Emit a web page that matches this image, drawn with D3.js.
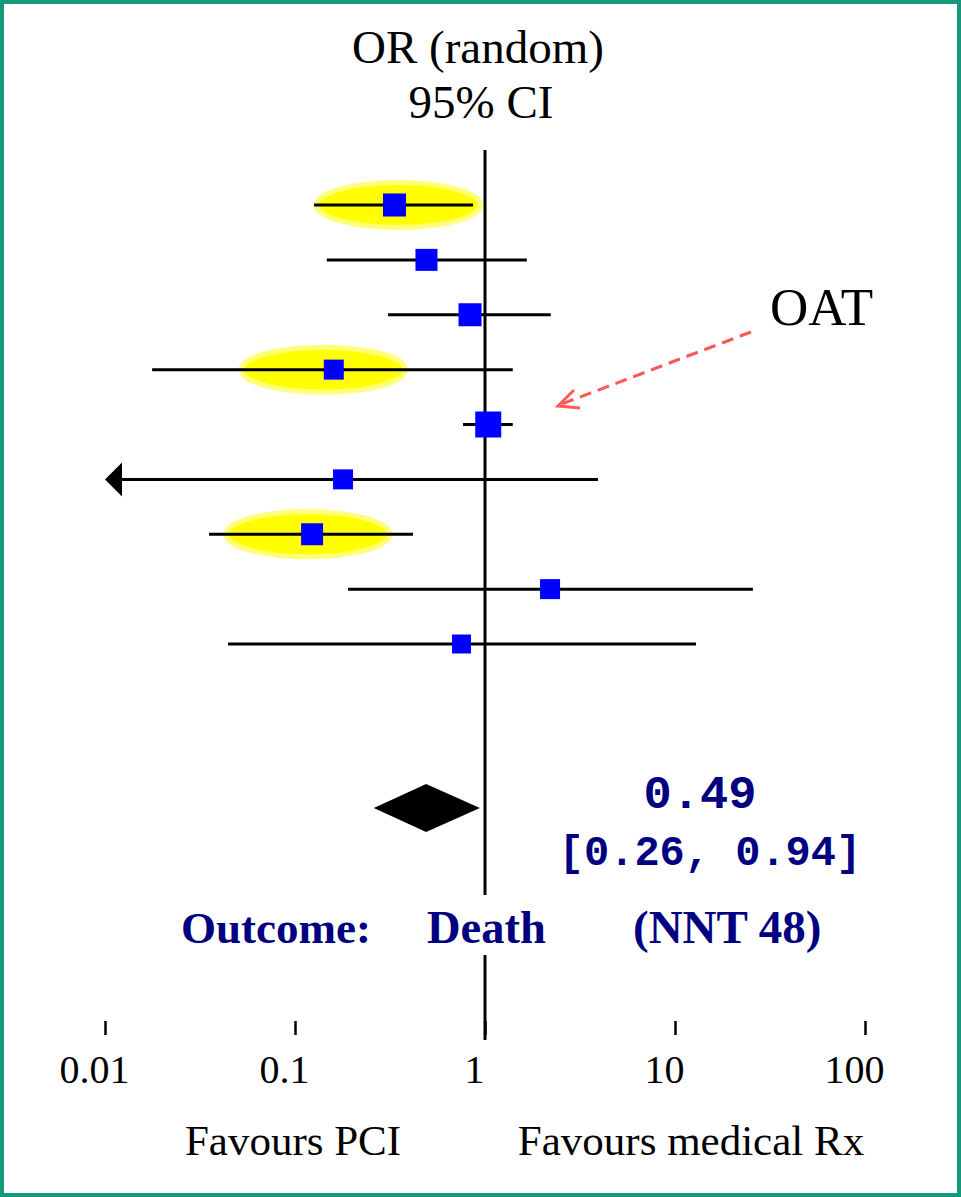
<!DOCTYPE html>
<html>
<head>
<meta charset="utf-8">
<script src="https://cdn.jsdelivr.net/npm/d3@7"></script>
<style>
  body { margin: 0; background: #fff; }
  text { font-family: "Liberation Serif", "Times New Roman", serif; }
</style>
</head>
<body>
<div id="content"></div>
<script>
// study odds ratios
const orPoint = [0.334, 0.492, 0.834, 0.160, 1.04, 0.179, 0.123, 2.20, 0.752];
const ciLow   = [0.126, 0.147, 0.309, 0.0177, 0.766, 0.005, 0.0353, 0.190, 0.0444];
const ciHigh  = [0.865, 1.66, 2.22, 1.40, 1.40, 3.93, 0.418, 25.7, 12.9];
const boxSize = [23, 22, 23, 20, 26, 20, 22, 20, 19];
// highlighted trials (row index, centre OR)
const highlightRow = [0, 3, 6];
const highlightAt  = [0.35, 0.141, 0.117];

const pooled = 0.49;
const pooledLow = 0.26;
const pooledHigh = 0.94;

const tickValues = [0.01, 0.1, 1, 10, 100];
const tickLabels = ["0.01", "0.1", "1", "10", "100"];

const w = 961;
const h = 1197;

const xScale = d3.scaleLog()
  .domain([0.01, 100])
  .range([105, 865]);

const yScale = d3.scaleLinear()
  .domain([0, 8])
  .range([205, 644]);

const svg = d3.select("#content")
  .append("svg")
  .attr("width", w)
  .attr("height", h);

svg.append("rect")
  .attr("x", 2).attr("y", 2)
  .attr("width", w - 4).attr("height", h - 4)
  .attr("fill", "#fff")
  .attr("stroke", "#16987a")
  .attr("stroke-width", 4);

// title
svg.append("text").attr("x", 478).attr("y", 63)
  .attr("text-anchor", "middle").attr("font-size", 47).text("OR (random)");
svg.append("text").attr("x", 481).attr("y", 118)
  .attr("text-anchor", "middle").attr("font-size", 47).text("95% CI");

// yellow highlights
svg.selectAll("ellipse.hl")
  .data(highlightRow)
  .enter()
  .append("ellipse")
  .attr("class", "hl")
  .attr("cx", (d, i) => xScale(highlightAt[i]))
  .attr("cy", d => yScale(d))
  .attr("rx", 82)
  .attr("ry", 22.5)
  .attr("fill", "#ffff00")
  .attr("stroke", "#ffff78")
  .attr("stroke-width", 5);

// line of no effect, broken round the outcome text
const x1 = xScale(1);
svg.append("line").attr("x1", x1).attr("x2", x1).attr("y1", 150).attr("y2", 895)
  .attr("stroke", "#000").attr("stroke-width", 3);
svg.append("line").attr("x1", x1).attr("x2", x1).attr("y1", 955).attr("y2", 1040)
  .attr("stroke", "#000").attr("stroke-width", 3);

// CI lines
svg.selectAll("line.ci")
  .data(orPoint)
  .enter()
  .append("line")
  .attr("class", "ci")
  .attr("x1", (d, i) => xScale(Math.max(ciLow[i], 0.01)) + (ciLow[i] < 0.01 ? 14 : 0))
  .attr("x2", (d, i) => xScale(ciHigh[i]))
  .attr("y1", (d, i) => yScale(i))
  .attr("y2", (d, i) => yScale(i))
  .attr("stroke", "#000")
  .attr("stroke-width", 3);

// arrow where the CI runs off the scale
ciLow.forEach(function (v, i) {
  if (v < 0.01) {
    const tx = xScale(0.01), ty = yScale(i);
    svg.append("path")
      .attr("d", `M${tx},${ty} L${tx + 17},${ty - 17} L${tx + 17},${ty + 17} Z`)
      .attr("fill", "#000");
  }
});

// boxes
svg.selectAll("rect.box")
  .data(orPoint)
  .enter()
  .append("rect")
  .attr("class", "box")
  .attr("x", (d, i) => xScale(d) - boxSize[i] / 2)
  .attr("y", (d, i) => yScale(i) - boxSize[i] / 2)
  .attr("width", (d, i) => boxSize[i])
  .attr("height", (d, i) => boxSize[i])
  .attr("fill", "#0000ff");

// pooled diamond
const dy = 808;
svg.append("path")
  .attr("d", `M${xScale(pooledLow)},${dy} L${xScale(pooled)},${dy - 24} L${xScale(pooledHigh)},${dy} L${xScale(pooled)},${dy + 24} Z`)
  .attr("fill", "#000");

svg.append("text").attr("x", 700).attr("y", 808)
  .attr("text-anchor", "middle")
  .attr("font-weight", "bold").attr("font-size", 47).attr("fill", "#000080")
  .style("font-family", "'Liberation Mono', 'Courier New', monospace")
  .text(pooled.toFixed(2));
svg.append("text").attr("x", 710).attr("y", 865)
  .attr("text-anchor", "middle")
  .attr("font-weight", "bold").attr("font-size", 42).attr("fill", "#000080")
  .style("font-family", "'Liberation Mono', 'Courier New', monospace")
  .text("[" + pooledLow.toFixed(2) + ", " + pooledHigh.toFixed(2) + "]");

// outcome line
svg.append("text").attr("x", 181).attr("y", 943)
  .attr("font-weight", "bold").attr("font-size", 45).attr("fill", "#000080").text("Outcome:");
svg.append("text").attr("x", 427).attr("y", 943)
  .attr("font-weight", "bold").attr("font-size", 46.5).attr("fill", "#000080").text("Death");
svg.append("text").attr("x", 633).attr("y", 943)
  .attr("font-weight", "bold").attr("font-size", 47).attr("fill", "#000080").text("(NNT 48)");

// OAT annotation
svg.append("text").attr("x", 770).attr("y", 325)
  .attr("font-size", 53).text("OAT");
svg.append("line")
  .attr("x1", 751).attr("y1", 332).attr("x2", 559).attr("y2", 405)
  .attr("stroke", "#ff5a5a").attr("stroke-width", 3)
  .attr("stroke-dasharray", "12,7");
svg.append("path")
  .attr("d", "M574,390 L558,406 L580,408")
  .attr("fill", "none").attr("stroke", "#ff5a5a").attr("stroke-width", 3);

// axis: ticks only, no domain line
const xAxis = d3.axisBottom(xScale)
  .tickValues(tickValues)
  .tickFormat((d, i) => tickLabels[i])
  .tickSize(14)
  .tickPadding(0);

const gx = svg.append("g")
  .attr("transform", "translate(0, 1021)")
  .call(xAxis);
gx.select(".domain").remove();
gx.selectAll(".tick line").attr("stroke", "#000").attr("stroke-width", 2.5);
gx.selectAll(".tick text")
  .attr("font-family", null)
  .style("font-family", "'Liberation Serif', 'Times New Roman', serif")
  .attr("font-size", 40)
  .attr("fill", "#000")
  .attr("dx", -11)
  .attr("dy", null)
  .attr("y", 62);

svg.append("text").attr("x", 293).attr("y", 1155)
  .attr("text-anchor", "middle").attr("font-size", 43).text("Favours PCI");
svg.append("text").attr("x", 691).attr("y", 1155)
  .attr("text-anchor", "middle").attr("font-size", 43).text("Favours medical Rx");
</script>
</body>
</html>
